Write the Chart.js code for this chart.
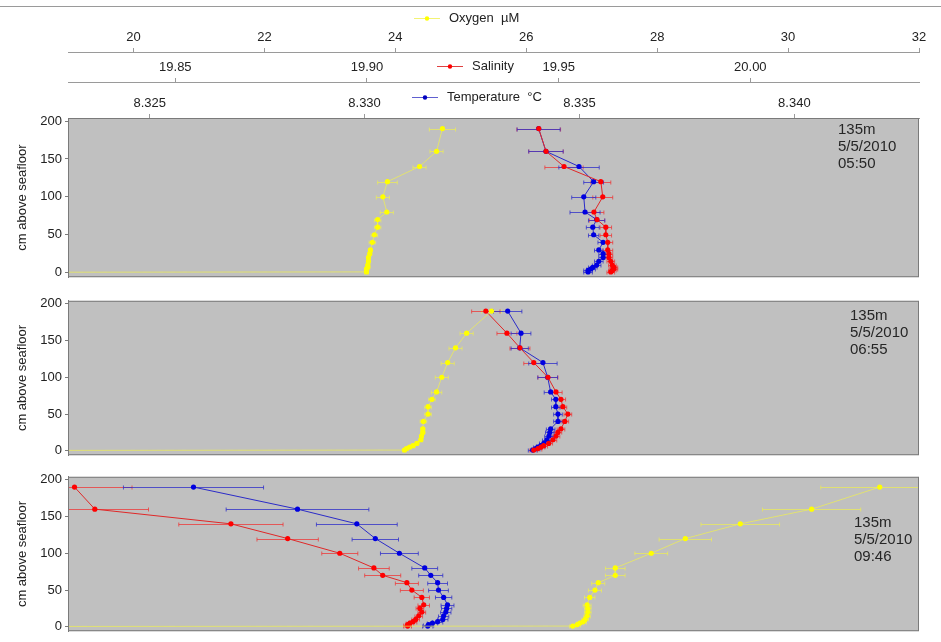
<!DOCTYPE html>
<html>
<head>
    <title>Profile 135m 5/5/2010</title>
    <script src="https://cdn.jsdelivr.net/npm/chart.js"></script>
    <style>
        body {
            margin: 0;
            padding: 0;
            background: #ffffff;
            font-family: 'Liberation Sans', Arial, sans-serif;
        }
        #wrap {
            position: relative;
            width: 941px;
            height: 642px;
            overflow: hidden;
        }
        #topline {
            position: absolute;
            left: 0;
            top: 6px;
            width: 941px;
            border-top: 1px solid #9a9a9a;
        }
        .panel {
            position: absolute;
            left: 0;
        }
        canvas {
            display: block;
        }
    </style>
</head>
<body>
    <div id="wrap">
        <div id="topline"></div>
        <div class="panel" style="top:0px"><canvas id="p0" width="941" height="288"></canvas></div>
        <div class="panel" style="top:290px"><canvas id="p1" width="941" height="176"></canvas></div>
        <div class="panel" style="top:466px"><canvas id="p2" width="941" height="176"></canvas></div>
    </div>

    <script>
        // depths of the sampled levels (cm above seafloor)
        const depths = [190, 160, 140, 120, 100, 80, 70, 60, 50, 40, 30, 25, 20, 15, 10, 7, 5, 3, 1];

        // tick labels
        const depthTicks = [0, 50, 100, 150, 200];
        const oxyTicks = [20, 22, 24, 26, 28, 30, 32];
        const salTicks = [19.85, 19.90, 19.95, 20.00];
        const tempTicks = [8.325, 8.330, 8.335, 8.340];

        // 05:50
        const oxy0550 = [24.72, 24.63, 24.37, 23.88, 23.81, 23.87, 23.73, 23.73, 23.68, 23.65, 23.62, 23.61, 23.59, 23.59, 23.58, 23.58, 23.56, 23.56, 23.56];
        const sal0550 = [19.9448, 19.9467, 19.9514, 19.9610, 19.9615, 19.9592, 19.9600, 19.9623, 19.9623, 19.9628, 19.9628, 19.9631, 19.9631, 19.9636, 19.9640, 19.9644, 19.9644, 19.9640, 19.9636];
        const temp0550 = [8.33405, 8.33422, 8.33499, 8.33533, 8.33510, 8.33513, 8.33540, 8.33531, 8.33533, 8.33555, 8.33545, 8.33555, 8.33555, 8.33545, 8.33540, 8.33531, 8.33527, 8.33520, 8.33520];
        const oxyErr0550 = [0.2, 0.1, 0.1, 0.15, 0.1, 0.1, 0.05, 0.05, 0.05, 0.05, 0.03, 0.03, 0.03, 0.03, 0.03, 0.03, 0.03, 0.03, 0.03];
        const salErr0550 = [0.0057, 0.0045, 0.005, 0.0026, 0.0026, 0.0026, 0.002, 0.0015, 0.0015, 0.0013, 0.0013, 0.001, 0.001, 0.001, 0.001, 0.001, 0.001, 0.001, 0.001];
        const tempErr0550 = [0.0005, 0.0004, 0.00047, 0.00023, 0.00028, 0.00035, 0.00019, 0.00015, 0.00012, 0.00012, 0.0001, 0.0001, 0.0001, 0.0001, 0.0001, 0.0001, 0.0001, 0.0001, 0.0001];

        // 06:55
        const oxy0655 = [25.47, 25.09, 24.92, 24.80, 24.71, 24.63, 24.56, 24.50, 24.50, 24.43, 24.42, 24.42, 24.40, 24.39, 24.33, 24.27, 24.22, 24.17, 24.14];
        const sal0655 = [19.9310, 19.9365, 19.9399, 19.9435, 19.9472, 19.9493, 19.9506, 19.9511, 19.9524, 19.9516, 19.9506, 19.9498, 19.9493, 19.9485, 19.9474, 19.9461, 19.9454, 19.9446, 19.9435];
        const temp0655 = [8.33333, 8.33364, 8.33361, 8.33415, 8.33426, 8.33433, 8.33445, 8.33445, 8.33450, 8.33450, 8.33433, 8.33431, 8.33429, 8.33424, 8.33417, 8.33410, 8.33403, 8.33398, 8.33391];
        const oxyErr0655 = [0.15, 0.1, 0.1, 0.1, 0.1, 0.08, 0.05, 0.05, 0.05, 0.05, 0.03, 0.03, 0.03, 0.03, 0.03, 0.03, 0.03, 0.03, 0.03];
        const salErr0655 = [0.0037, 0.0026, 0.0026, 0.0026, 0.0026, 0.0016, 0.0012, 0.001, 0.001, 0.001, 0.001, 0.001, 0.001, 0.001, 0.001, 0.001, 0.001, 0.001, 0.001];
        const tempErr0655 = [0.00033, 0.00023, 0.0002, 0.00033, 0.00023, 0.00015, 0.0001, 0.0001, 0.0001, 0.0001, 0.0001, 0.0001, 0.0001, 0.0001, 0.0001, 0.0001, 0.0001, 0.0001, 0.0001];

        // 09:46
        const oxy0946 = [31.40, 30.36, 29.27, 28.43, 27.91, 27.36, 27.36, 27.10, 27.05, 26.97, 26.93, 26.94, 26.94, 26.93, 26.90, 26.87, 26.82, 26.78, 26.71];
        const sal0946 = [19.8237, 19.8290, 19.8645, 19.8793, 19.8929, 19.9018, 19.9041, 19.9104, 19.9117, 19.9143, 19.9148, 19.9138, 19.9143, 19.9135, 19.9127, 19.9120, 19.9112, 19.9106, 19.9106];
        const temp0946 = [8.32602, 8.32844, 8.32982, 8.33025, 8.33081, 8.33140, 8.33154, 8.33170, 8.33172, 8.33184, 8.33193, 8.33191, 8.33189, 8.33184, 8.33182, 8.33170, 8.33158, 8.33149, 8.33147];
        const oxyErr0946 = [0.9, 0.75, 0.6, 0.4, 0.25, 0.15, 0.15, 0.1, 0.1, 0.08, 0.06, 0.05, 0.05, 0.05, 0.05, 0.05, 0.05, 0.05, 0.05];
        const salErr0946 = [0.015, 0.014, 0.0136, 0.008, 0.0047, 0.004, 0.0047, 0.003, 0.003, 0.002, 0.0015, 0.001, 0.001, 0.001, 0.001, 0.001, 0.001, 0.001, 0.001];
        const tempErr0946 = [0.00163, 0.00166, 0.00094, 0.00054, 0.00044, 0.0003, 0.00028, 0.00023, 0.00023, 0.00019, 0.00015, 0.00012, 0.00012, 0.00012, 0.00012, 0.00012, 0.00012, 0.00012, 0.00012];

        // oxygen reading right at the bed (0 cm), far below the axis
        const oxyBed = [12, 12, 12];

        const notes = [
            ['135m', '5/5/2010', '05:50'],
            ['135m', '5/5/2010', '06:55'],
            ['135m', '5/5/2010', '09:46']
        ];

        const FONT = "'Liberation Sans', Arial, sans-serif";
        Chart.defaults.font.family = FONT;
        Chart.defaults.color = '#222222';

        // gray plot background and frame
        const panelBg = {
            id: 'panelBg',
            beforeDraw(chart) {
                const a = chart.chartArea, ctx = chart.ctx;
                ctx.save();
                ctx.fillStyle = '#c0c0c0';
                ctx.fillRect(a.left, a.top, a.right - a.left, a.bottom - a.top);
                ctx.restore();
            },
            afterDraw(chart) {
                const a = chart.chartArea, ctx = chart.ctx;
                ctx.save();
                ctx.strokeStyle = '#7a7a7a';
                ctx.lineWidth = 1;
                ctx.strokeRect(a.left + 0.5, a.top + 0.5, a.right - a.left - 1, a.bottom - a.top - 1);
                ctx.restore();
            }
        };

        // horizontal error bars, read from dataset.errors
        const errorBars = {
            id: 'errorBars',
            beforeDatasetsDraw(chart) {
                const ctx = chart.ctx, a = chart.chartArea;
                ctx.save();
                ctx.beginPath();
                ctx.rect(a.left, a.top, a.right - a.left, a.bottom - a.top);
                ctx.clip();
                chart.data.datasets.forEach(ds => {
                    if (!ds.errors) return;
                    const xs = chart.scales[ds.xAxisID], ys = chart.scales.y;
                    ctx.strokeStyle = ds.errorColor;
                    ctx.lineWidth = 1;
                    ds.data.forEach((p, i) => {
                        const e = ds.errors[i];
                        if (!e) return;
                        const x0 = xs.getPixelForValue(p.x - e);
                        const x1 = xs.getPixelForValue(p.x + e);
                        const y = Math.round(ys.getPixelForValue(p.y)) + 0.5;
                        ctx.beginPath();
                        ctx.moveTo(x0, y); ctx.lineTo(x1, y);
                        ctx.moveTo(x0, y - 2); ctx.lineTo(x0, y + 2);
                        ctx.moveTo(x1, y - 2); ctx.lineTo(x1, y + 2);
                        ctx.stroke();
                    });
                });
                ctx.restore();
            }
        };

        // station / date / time text in the plot
        const panelNote = {
            id: 'panelNote',
            afterDraw(chart, args, opts) {
                const ctx = chart.ctx;
                ctx.save();
                ctx.font = '15px ' + FONT;
                ctx.fillStyle = '#262626';
                ctx.textBaseline = 'middle';
                opts.lines.forEach((t, i) => {
                    ctx.fillText(t, opts.x, chart.chartArea.top + opts.dy + i * 17);
                });
                ctx.restore();
            }
        };

        // legend entries sitting inside the top axis bands
        const axisLegend = {
            id: 'axisLegend',
            afterDraw(chart, args, opts) {
                if (!opts.items) return;
                const ctx = chart.ctx;
                ctx.save();
                ctx.font = '13px ' + FONT;
                ctx.textBaseline = 'middle';
                opts.items.forEach(it => {
                    ctx.strokeStyle = it.line;
                    ctx.lineWidth = 1;
                    ctx.beginPath();
                    ctx.moveTo(it.x - 13, it.y + 0.5);
                    ctx.lineTo(it.x + 13, it.y + 0.5);
                    ctx.stroke();
                    ctx.fillStyle = it.color;
                    ctx.beginPath();
                    ctx.arc(it.x, it.y + 0.5, 2.2, 0, Math.PI * 2);
                    ctx.fill();
                    ctx.fillStyle = '#222222';
                    ctx.fillText(it.text, it.x + 22, it.y);
                });
                ctx.restore();
            }
        };

        function xScale(min, max, ticks, digits, weight, show, height) {
            return {
                type: 'linear',
                position: 'top',
                display: show,
                min: min,
                max: max,
                weight: weight,
                afterBuildTicks: s => { s.ticks = ticks.map(v => ({ value: v })); },
                afterFit: s => { if (show) s.height = height; },
                ticks: {
                    font: { size: 13 },
                    padding: 3,
                    autoSkip: false,
                    maxRotation: 0,
                    callback: v => Number(v).toFixed(digits)
                },
                grid: { drawOnChartArea: false, tickLength: 4, color: '#9a9a9a' },
                border: { color: '#9a9a9a' }
            };
        }

        function makePanel(canvasId, p, oxy, sal, temp, oxyErr, salErr, tempErr, showTop, padding, note) {
            const pts = vals => vals.map((v, i) => ({ x: v, y: depths[i] }));
            const oxyPts = pts(oxy).concat([{ x: oxyBed[p], y: 0 }]);

            const datasets = [
                {
                    label: 'Oxygen µM',
                    data: oxyPts,
                    xAxisID: 'xO',
                    errors: oxyErr,
                    errorColor: 'rgba(235,235,90,0.75)',
                    showLine: true,
                    borderColor: 'rgba(240,240,80,0.7)',
                    borderWidth: 1,
                    pointRadius: 2.6,
                    pointBorderWidth: 0,
                    pointBackgroundColor: '#ffff00'
                },
                {
                    label: 'Salinity',
                    data: pts(sal),
                    xAxisID: 'xS',
                    errors: salErr,
                    errorColor: 'rgba(235,60,60,0.8)',
                    showLine: true,
                    borderColor: '#e02828',
                    borderWidth: 1,
                    pointRadius: 2.6,
                    pointBorderWidth: 0,
                    pointBackgroundColor: '#ff0000'
                },
                {
                    label: 'Temperature °C',
                    data: pts(temp),
                    xAxisID: 'xT',
                    errors: tempErr,
                    errorColor: 'rgba(50,50,200,0.8)',
                    showLine: true,
                    borderColor: '#2b2bc8',
                    borderWidth: 1,
                    pointRadius: 2.6,
                    pointBorderWidth: 0,
                    pointBackgroundColor: '#0000e0'
                }
            ];

            return new Chart(document.getElementById(canvasId).getContext('2d'), {
                type: 'scatter',
                data: { datasets: datasets },
                plugins: [panelBg, errorBars, panelNote, axisLegend],
                options: {
                    responsive: false,
                    animation: false,
                    devicePixelRatio: 1,
                    layout: { padding: padding },
                    scales: {
                        xO: xScale(19, 32, oxyTicks, 0, 3, showTop, 30),
                        xS: xScale(19.822, 20.044, salTicks, 2, 2, showTop, 30),
                        xT: xScale(8.3231, 8.3429, tempTicks, 3, 1, showTop, 36),
                        y: {
                            type: 'linear',
                            min: -6,
                            max: 204,
                            afterBuildTicks: s => { s.ticks = depthTicks.map(v => ({ value: v })); },
                            afterFit: s => { s.width = 68; },
                            ticks: { font: { size: 13 }, padding: 3 },
                            grid: { drawOnChartArea: false, tickLength: 3, color: '#7a7a7a' },
                            border: { color: '#7a7a7a' },
                            title: {
                                display: true,
                                text: 'cm above seafloor',
                                font: { size: 13 },
                                color: '#222222',
                                padding: { top: 15, bottom: 0 }
                            }
                        }
                    },
                    plugins: {
                        legend: { display: false },
                        tooltip: { enabled: false },
                        panelNote: note,
                        axisLegend: showTop ? {
                            items: [
                                { text: 'Oxygen  µM', x: 427, y: 18, color: '#ffff00', line: 'rgba(240,240,80,0.8)' },
                                { text: 'Salinity', x: 450, y: 66, color: '#ff0000', line: '#e04040' },
                                { text: 'Temperature  °C', x: 425, y: 97, color: '#0000c0', line: '#6060d0' }
                            ]
                        } : {}
                    }
                }
            });
        }

        makePanel('p0', 0, oxy0550, sal0550, temp0550, oxyErr0550, salErr0550, tempErr0550, true,
            { top: 22, right: 22, bottom: 3, left: 0 }, { lines: notes[0], x: 838, dy: 12 });
        makePanel('p1', 1, oxy0655, sal0655, temp0655, oxyErr0655, salErr0655, tempErr0655, false,
            { top: 7, right: 22, bottom: 4, left: 0 }, { lines: notes[1], x: 850, dy: 15 });
        makePanel('p2', 2, oxy0946, sal0946, temp0946, oxyErr0946, salErr0946, tempErr0946, false,
            { top: 7, right: 22, bottom: 2, left: 0 }, { lines: notes[2], x: 854, dy: 46 });
    </script>
</body>
</html>
